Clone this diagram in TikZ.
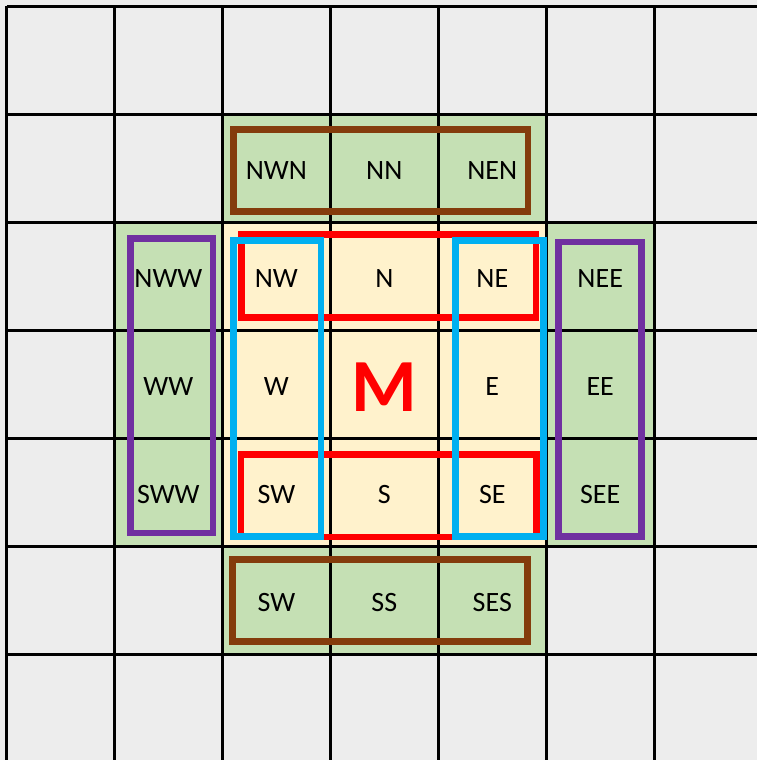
\documentclass[tikz,border=0pt]{standalone}
\usepackage{fontspec}
\setmainfont{Carlito}
\definecolor{bggray}{HTML}{EDEDED}
\definecolor{cellgreen}{HTML}{C5E0B4}
\definecolor{cellcream}{HTML}{FFF2CC}
\definecolor{boxbrown}{HTML}{843C0C}
\definecolor{boxpurple}{HTML}{7030A0}
\definecolor{boxblue}{HTML}{00B0F0}
\definecolor{boxred}{HTML}{FF0000}
\begin{document}
\begin{tikzpicture}[x=1pt,y=-1pt,
  gridline/.style={line width=3pt,black},
  lbl/.style={font=\fontsize{28}{32}\selectfont, anchor=base, inner sep=0pt},
  outline/.style={line width=6.5pt},
  bigm/.style={font=\fontsize{75}{80}\selectfont\bfseries, text=boxred, anchor=base, inner sep=0pt}]
\useasboundingbox (0,0) rectangle (757,760);
\fill[bggray] (0,0) rectangle (757,760);
% green cross and cream centre
\fill[cellgreen] (222.4,114.5) rectangle (546.3,654.2);
\fill[cellgreen] (114.5,222.4) rectangle (654.2,546.3);
\fill[cellcream] (222.4,222.4) rectangle (546.3,546.3);
% grid
\foreach \i in {0,...,6}{
  \draw[gridline] ({6.5+107.95*\i},6.5) -- ({6.5+107.95*\i},760);
  \draw[gridline] (6.5,{6.5+107.95*\i}) -- (757,{6.5+107.95*\i});
}
% outlines
\draw[outline,boxbrown] (233.3,129.5) rectangle (528,211.5);
\draw[outline,boxbrown] (232.5,559.7) rectangle (527.3,641.5);
\draw[outline,boxpurple] (130.3,238.7) rectangle (213,533);
\draw[outline,boxpurple] (558.3,242.2) rectangle (641.3,536.3);
\draw[outline,boxred] (241.3,234.7) rectangle (536,317.7);
\draw[outline,boxred] (240.8,454.5) rectangle (536.3,537);
\draw[outline,boxblue] (233.3,240.3) rectangle (321.2,536.3);
\draw[outline,boxblue] (455.5,240.3) rectangle (543.7,536.3);
% labels
\node[lbl] (nwn) at (276.4,179.8) {NWN};
\node[lbl] (nn)  at (384.3,179.8) {NN};
\node[lbl] (nen) at (492.3,179.8) {NEN};
\node[lbl] (nww) at (168.4,287.8) {NWW};
\node[lbl] (nw)  at (276.4,287.8) {NW};
\node[lbl] (n)   at (384.3,287.8) {N};
\node[lbl] (ne)  at (492.3,287.8) {NE};
\node[lbl] (nee) at (600.2,287.8) {NEE};
\node[lbl] (ww)  at (168.4,395.7) {WW};
\node[lbl] (w)   at (276.4,395.7) {W};
\node[bigm] (m)  at (384.3,411.8) {M};
\node[lbl] (e)   at (492.3,395.7) {E};
\node[lbl] (ee)  at (600.2,395.7) {EE};
\node[lbl] (sww) at (168.4,503.7) {SWW};
\node[lbl] (sw)  at (276.4,503.7) {SW};
\node[lbl] (s)   at (384.3,503.7) {S};
\node[lbl] (se)  at (492.3,503.7) {SE};
\node[lbl] (see) at (600.2,503.7) {SEE};
\node[lbl] (sw2) at (276.4,611.6) {SW};
\node[lbl] (ss)  at (384.3,611.6) {SS};
\node[lbl] (ses) at (492.3,611.6) {SES};
\end{tikzpicture}
\end{document}
